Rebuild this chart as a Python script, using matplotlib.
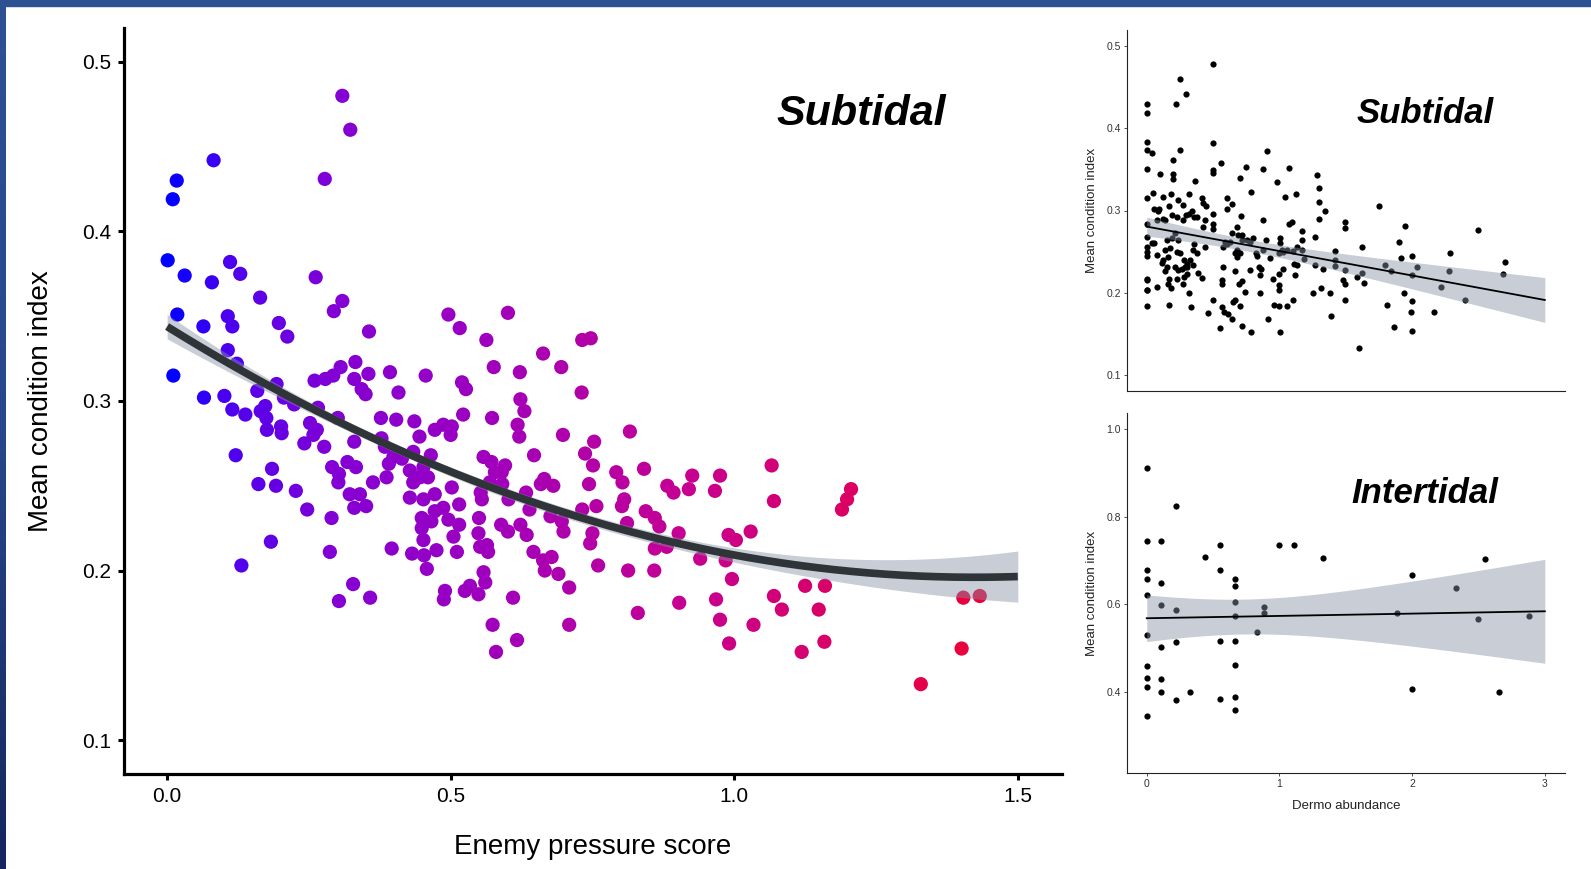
import numpy as np
import matplotlib
matplotlib.use("Agg")
import matplotlib.pyplot as plt
from matplotlib.colors import LinearSegmentedColormap
from matplotlib.patches import Rectangle

plt.rcParams['font.family'] = ['Liberation Sans', 'DejaVu Sans']

# main panel: enemy pressure score vs mean condition index (subtidal)
main_pts = np.array([
    (0.309, 0.480), (0.323, 0.460), (0.082, 0.442), (0.017, 0.430), (0.010, 0.419),
    (0.278, 0.431), (0.001, 0.383), (0.031, 0.374), (0.111, 0.382), (0.129, 0.375),
    (0.079, 0.370), (0.262, 0.373), (0.164, 0.361), (0.309, 0.359), (0.294, 0.353),
    (0.018, 0.351), (0.107, 0.350), (0.115, 0.344), (0.064, 0.344), (0.197, 0.346),
    (0.212, 0.338), (0.356, 0.341), (0.107, 0.330), (0.123, 0.322), (0.011, 0.315),
    (0.306, 0.320), (0.332, 0.323), (0.260, 0.312), (0.279, 0.313), (0.293, 0.315),
    (0.330, 0.313), (0.355, 0.316), (0.393, 0.317), (0.456, 0.315), (0.343, 0.307),
    (0.350, 0.304), (0.408, 0.305), (0.193, 0.310), (0.159, 0.306), (0.065, 0.302),
    (0.101, 0.303), (0.206, 0.302), (0.224, 0.298), (0.173, 0.297), (0.165, 0.294),
    (0.115, 0.295), (0.138, 0.292), (0.175, 0.290), (0.266, 0.296), (0.301, 0.290),
    (0.252, 0.287), (0.201, 0.285), (0.264, 0.283), (0.258, 0.280), (0.176, 0.283),
    (0.202, 0.281), (0.242, 0.275), (0.277, 0.273), (0.330, 0.276), (0.377, 0.290),
    (0.404, 0.289), (0.436, 0.288), (0.445, 0.279), (0.472, 0.283), (0.378, 0.278),
    (0.384, 0.273), (0.434, 0.270), (0.465, 0.268), (0.399, 0.267), (0.391, 0.263),
    (0.414, 0.266), (0.121, 0.268), (0.185, 0.260), (0.291, 0.261), (0.318, 0.264),
    (0.333, 0.261), (0.303, 0.257), (0.302, 0.252), (0.363, 0.252), (0.387, 0.255),
    (0.428, 0.259), (0.434, 0.252), (0.446, 0.255), (0.460, 0.255), (0.161, 0.251),
    (0.192, 0.250), (0.227, 0.247), (0.322, 0.245), (0.340, 0.245), (0.428, 0.243),
    (0.452, 0.242), (0.472, 0.245), (0.247, 0.236), (0.330, 0.237), (0.351, 0.238),
    (0.290, 0.231), (0.472, 0.235), (0.449, 0.231), (0.466, 0.229), (0.449, 0.225),
    (0.452, 0.218), (0.183, 0.217), (0.396, 0.213), (0.432, 0.210), (0.453, 0.209),
    (0.475, 0.212), (0.458, 0.201), (0.131, 0.203), (0.287, 0.211), (0.328, 0.192),
    (0.303, 0.182), (0.358, 0.184),
    (0.496, 0.351), (0.601, 0.352), (0.516, 0.343), (0.563, 0.336), (0.663, 0.328),
    (0.732, 0.336), (0.747, 0.337), (0.576, 0.320), (0.622, 0.317), (0.695, 0.320),
    (0.520, 0.311), (0.527, 0.307), (0.731, 0.305), (0.623, 0.301), (0.630, 0.294),
    (0.522, 0.292), (0.573, 0.290), (0.618, 0.286), (0.621, 0.279), (0.487, 0.286),
    (0.502, 0.285), (0.500, 0.280), (0.698, 0.280), (0.753, 0.276), (0.816, 0.282),
    (0.647, 0.268), (0.737, 0.269), (0.751, 0.262), (0.558, 0.267), (0.572, 0.264),
    (0.596, 0.262), (0.578, 0.258), (0.590, 0.258), (0.452, 0.261), (0.792, 0.258),
    (0.803, 0.252), (0.841, 0.260), (0.926, 0.256), (0.966, 0.247), (0.882, 0.250),
    (0.893, 0.246), (0.920, 0.248), (0.744, 0.251), (0.665, 0.254), (0.681, 0.250),
    (0.659, 0.251), (0.502, 0.249), (0.569, 0.252), (0.591, 0.251), (0.553, 0.246),
    (0.555, 0.242), (0.633, 0.246), (0.602, 0.242), (0.515, 0.239), (0.487, 0.237),
    (0.496, 0.230), (0.515, 0.227), (0.550, 0.231), (0.639, 0.236), (0.676, 0.232),
    (0.696, 0.229), (0.732, 0.236), (0.757, 0.238), (0.806, 0.242), (0.802, 0.238),
    (0.844, 0.235), (0.860, 0.231), (0.868, 0.226), (0.811, 0.228), (0.589, 0.227),
    (0.601, 0.223), (0.623, 0.227), (0.549, 0.222), (0.505, 0.220), (0.634, 0.221),
    (0.699, 0.223), (0.750, 0.222), (0.902, 0.222),
    (0.746, 0.216), (0.511, 0.211), (0.552, 0.214), (0.564, 0.215), (0.566, 0.211),
    (0.646, 0.211), (0.663, 0.206), (0.678, 0.208), (0.666, 0.200), (0.690, 0.198),
    (0.709, 0.190), (0.558, 0.199), (0.561, 0.193), (0.534, 0.191), (0.525, 0.188),
    (0.549, 0.186), (0.490, 0.188), (0.488, 0.183), (0.610, 0.184), (0.760, 0.203),
    (0.813, 0.200), (0.859, 0.200), (0.860, 0.213), (0.881, 0.214), (0.940, 0.207),
    (0.903, 0.181), (0.830, 0.175), (0.574, 0.168), (0.709, 0.168), (0.617, 0.159),
    (0.580, 0.152),
    (0.975, 0.256), (1.066, 0.262), (1.070, 0.241), (1.206, 0.248), (1.199, 0.242),
    (1.190, 0.236), (0.990, 0.221), (1.003, 0.218), (1.029, 0.223), (0.985, 0.206),
    (0.996, 0.195), (0.968, 0.183), (0.975, 0.171), (0.991, 0.157), (1.034, 0.168),
    (1.070, 0.185), (1.084, 0.177), (1.125, 0.191), (1.160, 0.191), (1.149, 0.177),
    (1.159, 0.158), (1.119, 0.152), (1.404, 0.184), (1.433, 0.185), (1.401, 0.154),
    (1.329, 0.133),
])
pressure = main_pts[:, 0]
condition = main_pts[:, 1]
# each plotted site mean stands for several oysters in the model behind the band
oysters_per_site = 7

# small panel: Dermo abundance vs condition, subtidal
sub_pts = np.array([
    (0, 0.430), (0, 0.419), (0, 0.383), (0, 0.374), (0, 0.351), (0, 0.315), (0, 0.283),
    (0, 0.268), (0, 0.256), (0, 0.250), (0, 0.245), (0, 0.217), (0, 0.215), (0, 0.203),
    (0, 0.183),
    (0.219, 0.430), (0.251, 0.460), (0.299, 0.442), (0.50, 0.479), (0.251, 0.374),
    (0.50, 0.382), (0.043, 0.370), (0.201, 0.361), (0.560, 0.358), (0.50, 0.349),
    (0.50, 0.346), (0.201, 0.344), (0.201, 0.338), (0.10, 0.344), (0.362, 0.336),
    (0.701, 0.340), (0.749, 0.353), (0.879, 0.351), (0.910, 0.373), (1.070, 0.352),
    (0.980, 0.335), (1.281, 0.343), (1.299, 0.328), (0.786, 0.323), (1.126, 0.320),
    (1.040, 0.317), (1.296, 0.310), (1.347, 0.300), (1.754, 0.305), (0.045, 0.321),
    (0.186, 0.320), (0.121, 0.317), (0.166, 0.305), (0.239, 0.313), (0.274, 0.307),
    (0.322, 0.320), (0.415, 0.315), (0.427, 0.309), (0.445, 0.305), (0.095, 0.302),
    (0.058, 0.302), (0.126, 0.290), (0.136, 0.288), (0.188, 0.294), (0.226, 0.292),
    (0.276, 0.288), (0.296, 0.294), (0.317, 0.296), (0.357, 0.292), (0.342, 0.299),
    (0.377, 0.292), (0.44, 0.288), (0.497, 0.296), (0.497, 0.284), (0.503, 0.278),
    (0.603, 0.315), (0.603, 0.302), (0.641, 0.308), (0.709, 0.293), (0.678, 0.280),
    (0.716, 0.270), (0.754, 0.264), (0.799, 0.266), (0.874, 0.288), (0.899, 0.264),
    (1.005, 0.266), (1.005, 0.260), (1.023, 0.252), (1.070, 0.284), (1.093, 0.286),
    (1.131, 0.256), (1.168, 0.275), (1.168, 0.264), (1.269, 0.268), (1.296, 0.290),
    (1.497, 0.286), (1.497, 0.279), (1.422, 0.251), (1.621, 0.256), (1.945, 0.281),
    (1.899, 0.262), (1.915, 0.242), (2.0, 0.245), (2.286, 0.248), (2.040, 0.231),
    (2.5, 0.276), (2.698, 0.237), (2.688, 0.223), (2.276, 0.226), (2.216, 0.207),
    (2.397, 0.191), (1.997, 0.221), (2.0, 0.190), (1.995, 0.176), (2.0, 0.153),
    (1.940, 0.200), (1.864, 0.158), (1.814, 0.185), (2.163, 0.176), (1.799, 0.233),
    (1.839, 0.226), (1.621, 0.224), (1.638, 0.212), (1.598, 0.133), (1.583, 0.219),
    (1.497, 0.227), (1.497, 0.211), (1.497, 0.191), (1.482, 0.215), (1.422, 0.232),
    (1.420, 0.240), (1.382, 0.200), (1.387, 0.172), (1.332, 0.229), (1.314, 0.206),
    (1.251, 0.200), (1.266, 0.234), (1.186, 0.241), (1.168, 0.252), (1.118, 0.221),
    (1.131, 0.233), (1.101, 0.191), (1.060, 0.184), (1.0, 0.223), (1.0, 0.209),
    (1.0, 0.203), (1.0, 0.184), (1.005, 0.152), (1.030, 0.229), (0.955, 0.217),
    (0.960, 0.185), (0.917, 0.168), (0.854, 0.200), (0.864, 0.229), (0.854, 0.221),
    (0.786, 0.152), (0.779, 0.227), (0.741, 0.201), (0.721, 0.159), (0.704, 0.183),
    (0.719, 0.214), (0.693, 0.211), (0.668, 0.226), (0.648, 0.188), (0.666, 0.191),
    (0.641, 0.168), (0.616, 0.174), (0.583, 0.176), (0.565, 0.182), (0.550, 0.157),
    (0.568, 0.211), (0.565, 0.215), (0.573, 0.231), (0.578, 0.256), (0.590, 0.262),
    (0.603, 0.259), (0.628, 0.262), (0.666, 0.248), (0.678, 0.252), (0.704, 0.248),
    (0.683, 0.243), (0.641, 0.272), (0.691, 0.270), (0.716, 0.264), (0.779, 0.262),
    (0.824, 0.248), (0.834, 0.244), (0.849, 0.231), (0.879, 0.252), (0.930, 0.242),
    (1.0, 0.248), (1.030, 0.250), (1.060, 0.252), (1.101, 0.251), (1.106, 0.235),
    (0.462, 0.175), (0.50, 0.191), (0.322, 0.200), (0.337, 0.182), (0.276, 0.211),
    (0.284, 0.219), (0.302, 0.223), (0.302, 0.231), (0.269, 0.229), (0.239, 0.228),
    (0.214, 0.231), (0.226, 0.217), (0.166, 0.217), (0.158, 0.211), (0.183, 0.206),
    (0.168, 0.185), (0.151, 0.231), (0.163, 0.243), (0.138, 0.252), (0.151, 0.264),
    (0.176, 0.254), (0.191, 0.266), (0.214, 0.272), (0.239, 0.264), (0.226, 0.250),
    (0.251, 0.248), (0.281, 0.240), (0.289, 0.231), (0.307, 0.235), (0.327, 0.240),
    (0.352, 0.252), (0.357, 0.259), (0.377, 0.248), (0.352, 0.233), (0.389, 0.224),
    (0.417, 0.218), (0.437, 0.256), (0.427, 0.280), (0.038, 0.260), (0.055, 0.260),
    (0.075, 0.246), (0.080, 0.207), (0.126, 0.240), (0.138, 0.226), (0.116, 0.236),
    (0.005, 0.203), (0.085, 0.299), (0.080, 0.289),
])
sub_dermo = sub_pts[:, 0]
sub_condition = sub_pts[:, 1]

# small panel: intertidal
inter_pts = np.array([
    (0, 0.912), (0.219, 0.824), (0, 0.744), (0.11, 0.744), (0.553, 0.735), (0.995, 0.735),
    (1.106, 0.735), (0.437, 0.709), (1.329, 0.706), (2.55, 0.703), (0, 0.678),
    (0.553, 0.677), (1.997, 0.667), (0, 0.658), (0.663, 0.657), (0.11, 0.649),
    (0.663, 0.641), (2.329, 0.638), (0, 0.620), (0.663, 0.606), (0.11, 0.597),
    (0.887, 0.594), (0.219, 0.586), (0.887, 0.579), (1.887, 0.579), (0.663, 0.573),
    (2.884, 0.573), (2.495, 0.565), (0.829, 0.536), (0, 0.530), (0.553, 0.516),
    (0.663, 0.515), (0.219, 0.514), (0.11, 0.501), (0.663, 0.460), (0, 0.459),
    (0, 0.431), (0.11, 0.428), (0, 0.411), (1.997, 0.406), (0.11, 0.398), (0.329, 0.398),
    (2.658, 0.398), (0.663, 0.387), (0.553, 0.383), (0.219, 0.381), (0.663, 0.357),
    (0, 0.343),
])
inter_dermo = inter_pts[:, 0]
inter_condition = inter_pts[:, 1]

main_xticks = [0.0, 0.5, 1.0, 1.5]
main_yticks = [0.1, 0.2, 0.3, 0.4, 0.5]
sub_yticks = [0.1, 0.2, 0.3, 0.4, 0.5]
inter_yticks = [0.4, 0.6, 0.8, 1.0]
dermo_xticks = [0, 1, 2, 3]

band_color = '#8592A4'


def smooth(x, y, deg, xg, reps=1):
    # lm fit with 95% confidence band, like geom_smooth
    X = np.vander(x, deg + 1)
    beta = np.linalg.lstsq(X, y, rcond=None)[0]
    dof = len(x) - (deg + 1)
    s2 = np.sum((y - X @ beta) ** 2) / dof
    XtXi = np.linalg.inv(X.T @ X) / reps
    G = np.vander(xg, deg + 1)
    fit = G @ beta
    se = np.sqrt(s2 * np.einsum('ij,jk,ik->i', G, XtXi, G))
    t = 2.01 if dof < 60 else 1.97
    return fit, fit - t * se, fit + t * se


fig = plt.figure(figsize=(15.91, 8.69), dpi=100)
fig.patch.set_facecolor('white')
# slide frame
fig.patches.append(Rectangle((0, 1 - 6 / 869), 1, 6 / 869, transform=fig.transFigure,
                             color='#2D5193', zorder=10))
edge = fig.add_axes([0, 0, 6 / 1591, 1])
edge.imshow(np.linspace(0, 1, 100).reshape(-1, 1), aspect='auto',
            cmap=LinearSegmentedColormap.from_list('edge', ['#2D5193', '#27478A', '#16265E']))
edge.axis('off')

# ---- main panel
ax = fig.add_axes([124 / 1591, 1 - 774 / 869, 938 / 1591, 746 / 869])
cmap = LinearSegmentedColormap.from_list('br', [
    (0.0, '#0000FF'), (0.07, '#4A00F0'), (0.2, '#8200D6'), (0.4, '#A000BC'),
    (0.65, '#C80090'), (0.85, '#DC0060'), (1.0, '#EC0038')])
ax.scatter(pressure, condition, c=pressure, cmap=cmap, vmin=0, vmax=pressure.max(),
           s=105, linewidths=0, zorder=2)
xg = np.linspace(0, 1.5, 200)
fit, lo, hi = smooth(pressure, condition, 2, xg, reps=oysters_per_site)
ax.fill_between(xg, lo, hi, color=band_color, alpha=0.45, linewidth=0, zorder=3)
ax.plot(xg, fit, color='#2F3439', lw=5.5, solid_capstyle='butt', zorder=4)
ax.set_xlim(-0.076, 1.578)
ax.set_ylim(0.080, 0.520)
ax.set_xticks(main_xticks)
ax.set_xticklabels(['%.1f' % v for v in main_xticks])
ax.set_yticks(main_yticks)
ax.set_yticklabels(['%.1f' % v for v in main_yticks])
for s in ['top', 'right']:
    ax.spines[s].set_visible(False)
for s in ['left', 'bottom']:
    ax.spines[s].set_linewidth(2.3)
ax.tick_params(width=2.2, length=4.5, labelsize=15, pad=5, colors='black')
ax.set_xlabel('Enemy pressure score', fontsize=20, labelpad=20)
ax.set_ylabel('Mean condition index', fontsize=20, labelpad=20)
ax.text(0.786, 0.885, 'Subtidal', transform=ax.transAxes, fontsize=31,
        fontweight='bold', fontstyle='italic', ha='center', va='center')


def small_panel(rect, x, y, yticks, ylim, title, ty, show_x):
    a = fig.add_axes(rect)
    a.scatter(x, y, s=20, color='black', linewidths=0, zorder=2)
    xs = np.linspace(0, 3, 100)
    f, l, h = smooth(x, y, 1, xs)
    a.fill_between(xs, l, h, color=band_color, alpha=0.45, linewidth=0, zorder=3)
    a.plot(xs, f, color='black', lw=1.3, zorder=4)
    a.set_xlim(-0.151, 3.152)
    a.set_ylim(*ylim)
    a.set_yticks(yticks)
    a.set_yticklabels(['%.1f' % v for v in yticks])
    for s in ['top', 'right']:
        a.spines[s].set_visible(False)
    for s in ['left', 'bottom']:
        a.spines[s].set_linewidth(0.8)
        a.spines[s].set_color('#222222')
    a.tick_params(width=0.6, length=2.5, labelsize=7.5, pad=1.5, colors='#333333')
    if show_x:
        a.set_xticks(dermo_xticks)
        a.set_xlabel('Dermo abundance', fontsize=9.5, color='#222222', labelpad=8)
    else:
        a.set_xticks([])
    a.set_ylabel('Mean condition index', fontsize=9.5, color='#222222', labelpad=6)
    a.text(0.68, ty, title, transform=a.transAxes, fontsize=25,
           fontweight='bold', fontstyle='italic', ha='center', va='center')
    return a


small_panel([1126.7 / 1591, 1 - 391 / 869, 438.3 / 1591, 361 / 869],
            sub_dermo, sub_condition, sub_yticks, (0.080, 0.520), 'Subtidal', 0.769, False)
small_panel([1126.7 / 1591, 1 - 773.3 / 869, 438.3 / 1591, 360.6 / 869],
            inter_dermo, inter_condition, inter_yticks, (0.213, 1.038), 'Intertidal', 0.776, True)

fig.savefig('out.png', dpi=100, facecolor='white')
